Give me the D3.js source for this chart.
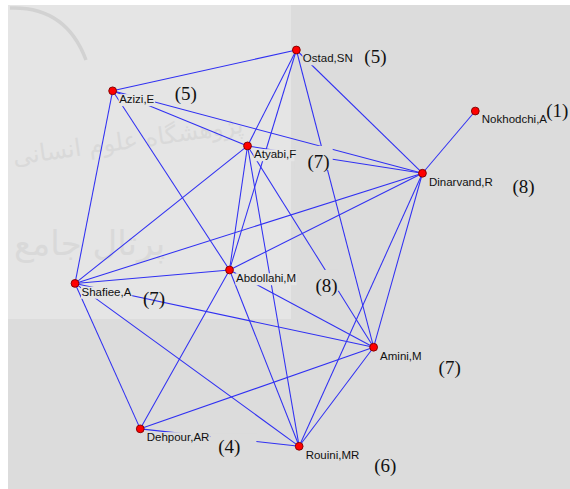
<!DOCTYPE html>
<html>
<head>
<meta charset="utf-8">
<script src="https://cdn.jsdelivr.net/npm/d3@7"></script>
<style>
  html, body { margin: 0; padding: 0; background: #ffffff; }
  svg { display: block; }
</style>
</head>
<body>
<svg id="chart" width="570" height="489"></svg>
<script>
// ---------------- DATA ----------------
const nodeNames = ["Ostad,SN", "Azizi,E", "Nokhodchi,A", "Atyabi,F", "Dinarvand,R",
                   "Abdollahi,M", "Shafiee,A", "Amini,M", "Dehpour,AR", "Rouini,MR"];
const nodeDegrees = [5, 5, 1, 7, 8, 8, 7, 7, 4, 6];
// network layout coordinates (normalised layout space 0..1)
const layoutX = [0.553, 0.094, 1.000, 0.431, 0.868, 0.386, 0.000, 0.746, 0.163, 0.560];
const layoutY = [0.000, 0.103, 0.154, 0.242, 0.311, 0.555, 0.589, 0.750, 0.956, 1.000];
// ties (undirected)
const edgeSources = ["Ostad,SN", "Ostad,SN", "Ostad,SN", "Ostad,SN", "Ostad,SN",
                     "Azizi,E", "Azizi,E", "Azizi,E", "Azizi,E",
                     "Nokhodchi,A",
                     "Atyabi,F", "Atyabi,F", "Atyabi,F", "Atyabi,F", "Atyabi,F",
                     "Dinarvand,R", "Dinarvand,R", "Dinarvand,R", "Dinarvand,R",
                     "Abdollahi,M", "Abdollahi,M", "Abdollahi,M", "Abdollahi,M",
                     "Shafiee,A", "Shafiee,A", "Shafiee,A",
                     "Amini,M", "Amini,M",
                     "Dehpour,AR"];
const edgeTargets = ["Azizi,E", "Atyabi,F", "Abdollahi,M", "Dinarvand,R", "Amini,M",
                     "Atyabi,F", "Dinarvand,R", "Abdollahi,M", "Shafiee,A",
                     "Dinarvand,R",
                     "Dinarvand,R", "Shafiee,A", "Abdollahi,M", "Amini,M", "Rouini,MR",
                     "Shafiee,A", "Abdollahi,M", "Amini,M", "Rouini,MR",
                     "Shafiee,A", "Amini,M", "Dehpour,AR", "Rouini,MR",
                     "Amini,M", "Dehpour,AR", "Rouini,MR",
                     "Dehpour,AR", "Rouini,MR",
                     "Rouini,MR"];

// ---------------- LAYOUT / STYLE ----------------
const W = 570, H = 489;
const BG = "#dcdcdc", BG_LIGHT = "#e5e5e5";
const plotX0 = 8, plotY0 = 5;
const lightW = 283, lightH = 319;
const EDGE = "#3030f2";

// annotation placement for the "(n)" degree labels, relative to each node (px)
const countOffset = {
  "Ostad,SN":    {dx: 68, dy: 13},
  "Azizi,E":     {dx: 62, dy: 9},
  "Nokhodchi,A": {dx: 71, dy: 6},
  "Atyabi,F":    {dx: 60, dy: 22, box: [13, 3, 22, 2]},
  "Dinarvand,R": {dx: 90, dy: 20},
  "Abdollahi,M": {dx: 86, dy: 22, box: [0, 1, 22, -1]},
  "Shafiee,A":   {dx: 68, dy: 22},
  "Amini,M":     {dx: 65, dy: 27},
  "Dehpour,AR":  {dx: 78, dy: 24, box: [8, 16, 19, -4]},
  "Rouini,MR":   {dx: 75, dy: 26}
};

const svg = d3.select("#chart");

const x = d3.scaleLinear().domain([0, 1]).range([75, 475.3]);
const y = d3.scaleLinear().domain([0, 1]).range([50, 446.3]);

const nodes = nodeNames.map((n, i) => ({name: n, deg: nodeDegrees[i], x: x(layoutX[i]), y: y(layoutY[i])}));
const byName = new Map(nodes.map(d => [d.name, d]));
const edges = edgeSources.map((s, i) => ({s: byName.get(s), t: byName.get(edgeTargets[i])}));

function bgAt(px, py) {
  return (px < plotX0 + lightW && py < lightH) ? BG_LIGHT : BG;
}

// background
svg.append("rect").attr("width", W).attr("height", H).attr("fill", "#ffffff");
svg.append("rect").attr("x", plotX0).attr("y", plotY0).attr("width", W - plotX0).attr("height", H - plotY0).attr("fill", BG);
svg.append("rect").attr("x", plotX0).attr("y", plotY0).attr("width", lightW).attr("height", lightH - plotY0).attr("fill", BG_LIGHT);

// faint watermark of the scanned page
const wm = svg.append("g").attr("pointer-events", "none");
wm.append("path")
  .attr("d", "M10,8 Q66,6 86,60")
  .attr("fill", "none").attr("stroke", "#d2d2d2").attr("stroke-width", 3.5);
wm.append("text")
  .attr("x", 14).attr("y", 165)
  .attr("transform", "rotate(-8,14,165)")
  .attr("font-family", "DejaVu Sans").attr("font-size", 24)
  .attr("fill", "#d9d9d9")
  .text("پژوهشگاه علوم انسانی");
wm.append("text")
  .attr("x", 14).attr("y", 255)
  .attr("font-family", "DejaVu Sans").attr("font-size", 34)
  .attr("fill", "#d9d9d9")
  .text("پرتال جامع");

// edges
svg.append("g")
  .selectAll("line")
  .data(edges)
  .join("line")
  .attr("x1", d => d.s.x).attr("y1", d => d.s.y)
  .attr("x2", d => d.t.x).attr("y2", d => d.t.y)
  .attr("stroke", EDGE)
  .attr("stroke-width", 1.05);

// node label boxes + count boxes, then texts
const gLabelBox = svg.append("g");
const gCountBox = svg.append("g");
const gLabelText = svg.append("g");
const gCountText = svg.append("g");

const labels = gLabelText.selectAll("text")
  .data(nodes)
  .join("text")
  .attr("x", d => d.x + 6.5)
  .attr("y", d => d.y + 12.3)
  .attr("font-family", "Liberation Sans, Arial, sans-serif")
  .attr("font-size", 11.5)
  .attr("fill", "#111111")
  .text(d => d.name);

labels.each(function(d) {
  const b = this.getBBox();
  gLabelBox.append("rect")
    .attr("x", b.x - 0.5).attr("y", b.y + 1)
    .attr("width", b.width + 1).attr("height", b.height)
    .attr("fill", bgAt(b.x, b.y));
});

const counts = gCountText.selectAll("text")
  .data(nodes)
  .join("text")
  .attr("x", d => d.x + countOffset[d.name].dx)
  .attr("y", d => d.y + countOffset[d.name].dy)
  .attr("font-family", "Liberation Serif, 'Times New Roman', serif")
  .attr("font-size", 19)
  .attr("fill", "#111")
  .text(d => "(" + d.deg + ")");

counts.each(function(d) {
  const o = countOffset[d.name];
  if (!o.box) return;
  const b = this.getBBox();
  const bx = d.x + o.dx, by = d.y + o.dy;
  const [pl, pr, pt, pb] = o.box;
  gCountBox.append("rect")
    .attr("x", b.x - pl).attr("y", by - pt)
    .attr("width", b.width + pl + pr).attr("height", pt + pb)
    .attr("fill", bgAt(bx, by - pt));
});

// nodes
svg.append("g")
  .selectAll("circle")
  .data(nodes)
  .join("circle")
  .attr("cx", d => d.x).attr("cy", d => d.y)
  .attr("r", 3.9)
  .attr("fill", "#ff0000")
  .attr("stroke", "#7a0000")
  .attr("stroke-width", 0.9);
</script>
</body>
</html>
